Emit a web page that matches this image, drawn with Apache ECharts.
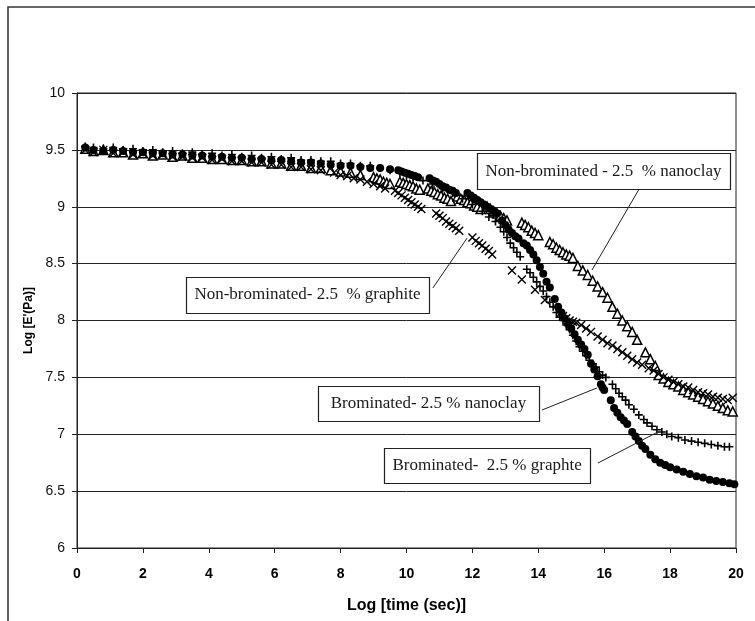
<!DOCTYPE html>
<html>
<head>
<meta charset="utf-8">
<script src="https://cdn.jsdelivr.net/npm/echarts@6/dist/echarts.min.js"></script>
<style>
  html, body { margin: 0; padding: 0; background: #fff; }
  #chart { width: 755px; height: 621px; }
</style>
</head>
<body>
<div id="chart"></div>
<script>
// Axis ticks
const xTicks = [0, 2, 4, 6, 8, 10, 12, 14, 16, 18, 20];
const yTicks = [6, 6.5, 7, 7.5, 8, 8.5, 9, 9.5, 10];

// Log E' (Pa) against log time (s), one list of [logTime, logE] per sample
const nonBromNanoclay = [
  [0.25,9.51],[0.5,9.49],[0.8,9.5],[1.1,9.48],[1.4,9.48],[1.7,9.46],[2.0,9.47],[2.3,9.45],[2.6,9.46],[2.9,9.44],
  [3.2,9.45],[3.5,9.43],[3.8,9.43],[4.1,9.42],[4.4,9.42],[4.7,9.41],[5.0,9.41],[5.3,9.4],[5.6,9.4],[5.9,9.38],
  [6.2,9.38],[6.5,9.36],[6.8,9.36],[7.1,9.34],[7.4,9.34],[7.7,9.32],[8.0,9.31],[8.3,9.3],[8.6,9.28],
  [9.0,9.26],[9.1,9.25],[9.2,9.24],[9.3,9.22],[9.4,9.21],[9.5,9.2],
  [9.8,9.22],[9.9,9.21],[10.0,9.2],[10.1,9.19],[10.2,9.18],[10.3,9.16],[10.4,9.15],
  [10.65,9.16],[10.75,9.14],[10.85,9.13],[10.95,9.11],[11.05,9.1],[11.15,9.08],[11.25,9.07],[11.35,9.05],
  [11.55,9.09],[11.65,9.07],[11.75,9.06],[11.85,9.04],[11.95,9.03],[12.05,9.01],[12.15,9.0],[12.25,8.98],
  [12.45,9.0],[12.55,8.98],[12.65,8.96],[12.75,8.94],[12.85,8.92],[12.95,8.9],[13.05,8.88],
  [13.5,8.86],[13.6,8.84],[13.7,8.82],[13.8,8.79],[13.9,8.77],[14.0,8.75],
  [14.35,8.69],[14.45,8.67],[14.55,8.64],[14.65,8.62],[14.75,8.6],[14.85,8.58],[14.95,8.57],[15.05,8.55],
  [15.2,8.48],[15.35,8.44],[15.5,8.4],[15.65,8.35],[15.8,8.3],[15.95,8.25],[16.1,8.2],
  [16.25,8.12],[16.4,8.06],[16.55,8.0],[16.7,7.95],[16.85,7.9],[17.0,7.83],
  [17.25,7.72],[17.4,7.66],[17.55,7.6],
  [17.65,7.52],[17.8,7.49],[17.95,7.46],[18.1,7.44],[18.25,7.42],[18.4,7.39],[18.55,7.37],[18.7,7.35],
  [18.85,7.33],[19.0,7.31],[19.15,7.29],[19.3,7.27],[19.45,7.25],[19.6,7.23],[19.75,7.21],[19.9,7.2]
];

const nonBromGraphite = [
  [0.25,9.5],[0.5,9.48],[0.8,9.5],[1.1,9.47],[1.4,9.48],[1.7,9.46],[2.0,9.47],[2.3,9.45],[2.6,9.46],[2.9,9.44],
  [3.2,9.44],[3.5,9.43],[3.8,9.43],[4.1,9.41],[4.4,9.42],[4.7,9.4],[5.0,9.4],[5.3,9.39],[5.6,9.39],[5.9,9.37],
  [6.2,9.37],[6.5,9.35],[6.8,9.35],[7.1,9.33],[7.4,9.32],
  [7.8,9.3],[8.0,9.28],[8.2,9.27],[8.4,9.25],[8.6,9.24],[8.8,9.22],[9.0,9.2],[9.2,9.18],[9.35,9.16],
  [9.65,9.14],[9.75,9.12],[9.85,9.1],[9.95,9.08],[10.05,9.06],[10.15,9.04],[10.25,9.02],[10.35,9.0],[10.45,8.98],
  [10.9,8.94],[11.0,8.92],[11.1,8.9],[11.2,8.87],[11.3,8.85],[11.4,8.83],[11.5,8.81],[11.6,8.79],
  [12.0,8.73],[12.1,8.7],[12.2,8.68],[12.3,8.66],[12.4,8.63],[12.5,8.61],[12.6,8.58],
  [13.2,8.44],[13.5,8.36],[13.9,8.27],[14.2,8.18],
  [14.65,8.06],[14.75,8.04],[14.85,8.02],[14.95,8.0],[15.05,7.99],[15.15,7.98],[15.3,7.96],[15.45,7.93],[15.6,7.9],
  [15.8,7.86],[15.95,7.83],[16.1,7.8],[16.25,7.78],[16.4,7.75],[16.55,7.72],[16.7,7.69],[16.85,7.66],[17.0,7.63],[17.15,7.61],
  [17.35,7.58],[17.5,7.56],[17.65,7.53],[17.8,7.5],[17.95,7.48],[18.1,7.46],[18.25,7.44],[18.4,7.42],[18.55,7.41],
  [18.7,7.39],[18.85,7.37],[19.0,7.36],[19.15,7.35],[19.3,7.33],[19.45,7.32],[19.6,7.31],[19.75,7.3],[19.9,7.32]
];

const bromNanoclay = [
  [0.25,9.53],[0.5,9.52],[0.8,9.51],[1.1,9.52],[1.4,9.5],[1.7,9.51],[2.0,9.49],[2.3,9.5],[2.6,9.48],[2.9,9.49],
  [3.2,9.47],[3.5,9.48],[3.8,9.46],[4.1,9.47],[4.4,9.45],[4.7,9.46],[5.0,9.44],[5.3,9.45],[5.6,9.43],[5.9,9.44],
  [6.2,9.42],[6.5,9.43],[6.8,9.41],[7.1,9.41],[7.4,9.4],[7.7,9.4],[8.0,9.38],[8.3,9.38],[8.6,9.36],[8.9,9.36],
  [9.2,9.34],[9.5,9.32],
  [9.8,9.3],[10.0,9.28],[10.2,9.26],[10.5,9.23],[10.8,9.2],[11.1,9.16],[11.4,9.12],[11.7,9.07],[12.0,9.02],
  [12.3,8.96],[12.5,8.91],[12.7,8.87],
  [12.85,8.82],[12.95,8.78],[13.05,8.73],[13.15,8.68],[13.25,8.64],[13.35,8.6],[13.45,8.56],
  [13.65,8.45],[13.75,8.42],[13.85,8.38],[13.95,8.34],[14.05,8.3],[14.15,8.26],[14.25,8.21],[14.35,8.16],
  [14.45,8.12],[14.55,8.07],[14.65,8.03],[14.75,8.0],
  [14.85,7.96],[14.95,7.92],[15.05,7.87],[15.15,7.82],[15.25,7.77],[15.35,7.73],[15.45,7.69],[15.55,7.65],
  [15.65,7.62],[15.75,7.59],[15.85,7.55],[15.95,7.52],[16.05,7.5],
  [16.25,7.44],[16.35,7.4],[16.45,7.36],[16.55,7.33],[16.65,7.3],
  [16.75,7.26],[16.9,7.22],[17.05,7.17],[17.2,7.13],[17.3,7.1],
  [17.45,7.07],[17.6,7.04],[17.75,7.02],[17.9,7.0],[18.05,6.98],[18.25,6.97],[18.45,6.95],[18.65,6.94],
  [18.85,6.93],[19.05,6.92],[19.25,6.91],[19.45,6.9],[19.65,6.89],[19.8,6.89]
];

const bromGraphite = [
  [0.25,9.52],[0.5,9.5],[0.8,9.49],[1.1,9.5],[1.4,9.49],[1.7,9.48],[2.0,9.48],[2.3,9.47],[2.6,9.47],[2.9,9.46],
  [3.2,9.46],[3.5,9.45],[3.8,9.45],[4.1,9.44],[4.4,9.44],[4.7,9.43],[5.0,9.43],[5.3,9.42],[5.6,9.42],[5.9,9.41],
  [6.2,9.41],[6.5,9.4],[6.8,9.39],[7.1,9.39],[7.4,9.38],[7.7,9.37],[8.0,9.36],[8.3,9.36],[8.6,9.35],[8.9,9.34],
  [9.2,9.34],[9.5,9.33],
  [9.75,9.32],[9.85,9.31],[9.95,9.3],[10.05,9.29],[10.15,9.28],[10.25,9.27],[10.35,9.26],
  [10.7,9.25],[10.8,9.23],[10.9,9.22],[11.0,9.2],[11.1,9.18],[11.2,9.17],[11.3,9.15],[11.4,9.14],[11.5,9.12],
  [11.85,9.12],[11.95,9.1],[12.05,9.08],[12.15,9.06],[12.25,9.04],[12.35,9.02],[12.45,9.0],[12.55,8.98],
  [12.65,8.96],[12.75,8.94],
  [12.9,8.88],[13.0,8.84],[13.1,8.8],[13.2,8.77],[13.3,8.74],[13.4,8.72],
  [13.55,8.68],[13.65,8.66],[13.75,8.62],[13.85,8.58],[13.95,8.53],[14.05,8.47],[14.15,8.41],[14.25,8.34],[14.35,8.29],
  [14.5,8.19],[14.6,8.12],[14.7,8.07],[14.8,8.02],[14.9,7.97],[15.0,7.93],[15.1,7.88],[15.2,7.83],[15.3,7.79],
  [15.4,7.75],[15.5,7.7],[15.6,7.62],[15.7,7.57],[15.8,7.51],[15.9,7.44],[15.95,7.41],[16.0,7.39],
  [16.2,7.3],
  [16.3,7.23],[16.4,7.19],[16.5,7.15],[16.6,7.12],[16.7,7.09],
  [16.85,7.02],[16.95,6.98],[17.05,6.94],[17.15,6.9],[17.25,6.87],
  [17.4,6.82],[17.55,6.78],[17.7,6.75],[17.85,6.73],[18.0,6.71],[18.2,6.69],[18.4,6.67],[18.6,6.65],
  [18.8,6.63],[19.0,6.62],[19.2,6.6],[19.4,6.59],[19.6,6.58],[19.8,6.57],[19.95,6.56]
];

// Callout boxes: box = [xLeft, yTop, xRight, yBottom], leader = [[x,y],[x,y]] (axis units)
const callouts = [
  { text: 'Non-brominated - 2.5  % nanoclay', box: [12.14, 9.47, 19.82, 9.156],
    leader: [[17.06, 9.156], [15.63, 8.444]] },
  { text: 'Non-brominated- 2.5  % graphite', box: [3.31, 8.382, 10.68, 8.066],
    leader: [[10.8, 8.286], [11.84, 8.725]] },
  { text: 'Brominated- 2.5 % nanoclay', box: [7.31, 7.424, 14.02, 7.116],
    leader: [[14.11, 7.213], [15.78, 7.407]] },
  { text: 'Brominated-  2.5 % graphte', box: [9.32, 6.879, 15.57, 6.571],
    leader: [[15.81, 6.747], [17.63, 7.02]] }
];

const INK = '#000';
const crossPath = 'path://M0,0L10,10M10,0L0,10';
const plusPath = 'path://M5,0L5,10M0,5L10,5';

const chart = echarts.init(document.getElementById('chart'), null, { renderer: 'canvas' });

const option = {
  animation: false,
  backgroundColor: '#fff',
  grid: {
    left: 77, right: 19, top: 93, bottom: 73,
    show: true, borderColor: '#222', borderWidth: 1, backgroundColor: 'transparent'
  },
  xAxis: {
    type: 'value',
    min: xTicks[0], max: xTicks[xTicks.length - 1], interval: xTicks[1] - xTicks[0],
    axisLine: { show: true, onZero: false, lineStyle: { color: '#222', width: 1 } },
    axisTick: { show: true, length: 5, lineStyle: { color: '#222' } },
    splitLine: { show: false },
    axisLabel: {
      color: '#000', fontSize: 14, fontWeight: 'bold', margin: 19,
      fontFamily: "'Liberation Sans', Arial, sans-serif"
    },
    name: 'Log [time (sec)]',
    nameLocation: 'middle',
    nameGap: 50,
    nameTextStyle: {
      color: '#000', fontSize: 16, fontWeight: 'bold',
      fontFamily: "'Liberation Sans', Arial, sans-serif"
    }
  },
  yAxis: {
    type: 'value',
    min: yTicks[0], max: yTicks[yTicks.length - 1], interval: yTicks[1] - yTicks[0],
    axisLine: { show: true, onZero: false, lineStyle: { color: '#222', width: 1 } },
    axisTick: { show: true, length: 5, lineStyle: { color: '#222' } },
    splitLine: { show: true, lineStyle: { color: '#222', width: 1 } },
    axisLabel: {
      color: '#111', fontSize: 14, margin: 12,
      fontFamily: "'Liberation Sans', Arial, sans-serif"
    },
    name: "Log [E'(Pa)]",
    nameLocation: 'middle',
    nameGap: 38,
    nameRotate: 90,
    nameTextStyle: {
      color: '#000', fontSize: 12, fontWeight: 'bold',
      fontFamily: "'Liberation Sans', Arial, sans-serif"
    }
  },
  series: [
    {
      name: 'Non-brominated - 2.5 % nanoclay', type: 'scatter', data: nonBromNanoclay,
      symbol: 'triangle', symbolSize: 9,
      itemStyle: { color: '#fff', borderColor: INK, borderWidth: 1.5, opacity: 1 }
    },
    {
      name: 'Non-brominated - 2.5 % graphite', type: 'scatter', data: nonBromGraphite,
      symbol: crossPath, symbolSize: 8,
      itemStyle: { color: 'rgba(0,0,0,0)', borderColor: INK, borderWidth: 1.4, opacity: 1 }
    },
    {
      name: 'Brominated - 2.5 % nanoclay', type: 'scatter', data: bromNanoclay,
      symbol: plusPath, symbolSize: 8,
      itemStyle: { color: 'rgba(0,0,0,0)', borderColor: INK, borderWidth: 1.6, opacity: 1 }
    },
    {
      name: 'Brominated - 2.5 % graphite', type: 'scatter', data: bromGraphite,
      symbol: 'circle', symbolSize: 8,
      itemStyle: { color: INK, borderWidth: 0, opacity: 1 }
    }
  ]
};

chart.setOption(option);

// Outer frame, callout boxes and leader lines
function drawOverlay() {
  const toPx = p => chart.convertToPixel({ gridIndex: 0 }, p);
  const elements = [{
    type: 'rect', silent: true, z: 100,
    shape: { x: 8, y: 7, width: 800, height: 700 },
    style: { fill: 'none', stroke: '#333', lineWidth: 1.5 }
  }];
  callouts.forEach(c => {
    const tl = toPx([c.box[0], c.box[1]]);
    const br = toPx([c.box[2], c.box[3]]);
    const a = toPx(c.leader[0]);
    const b = toPx(c.leader[1]);
    elements.push({
      type: 'line', silent: true, z: 100,
      shape: { x1: a[0], y1: a[1], x2: b[0], y2: b[1] },
      style: { stroke: '#222', lineWidth: 1 }
    });
    elements.push({
      type: 'rect', silent: true, z: 101,
      shape: { x: Math.round(tl[0]) + 0.5, y: Math.round(tl[1]) + 0.5,
               width: Math.round(br[0] - tl[0]), height: Math.round(br[1] - tl[1]) },
      style: { fill: '#fff', stroke: '#222', lineWidth: 1.2 }
    });
    elements.push({
      type: 'text', silent: true, z: 102,
      x: (tl[0] + br[0]) / 2, y: (tl[1] + br[1]) / 2,
      style: {
        text: c.text, fill: '#1a1a1a', align: 'center', verticalAlign: 'middle',
        fontSize: 17, fontFamily: "'Liberation Serif', 'Times New Roman', serif"
      }
    });
  });
  chart.setOption({ graphic: { elements } });
}
drawOverlay();
</script>
</body>
</html>
